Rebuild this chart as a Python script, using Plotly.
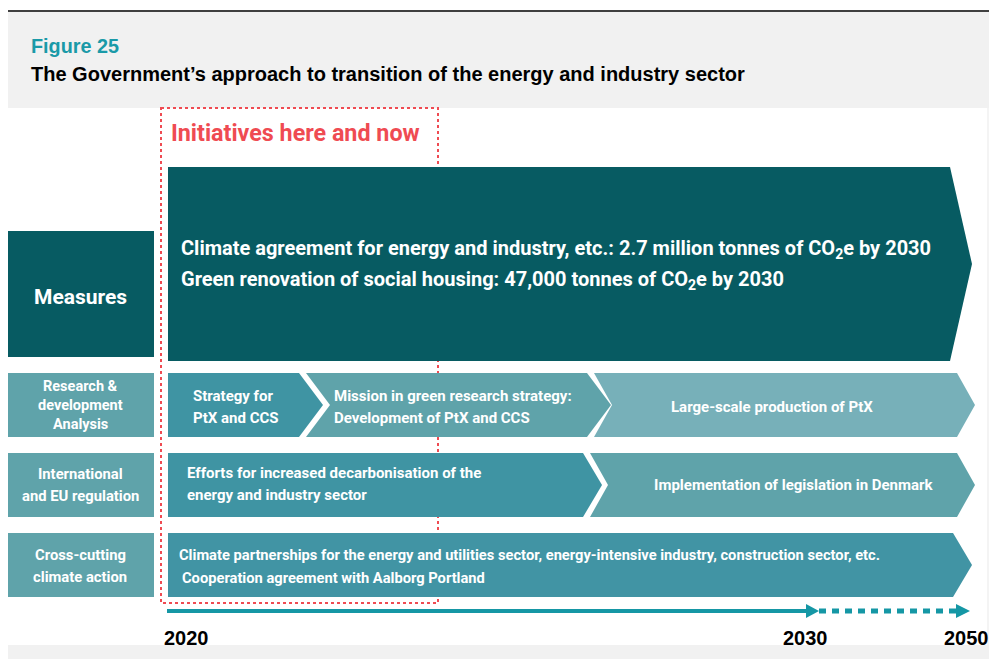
import plotly.graph_objects as go

# ---------------- data (text content) ----------------
fig_number = "Figure 25"
fig_title = "The Government’s approach to transition of the energy and industry sector"
focus_label = "Initiatives here and now"
row_labels = [["Measures"], ["Research &", "development", "Analysis"],
              ["International", "and EU regulation"], ["Cross-cutting", "climate action"]]
measures_lines = ["Climate agreement for energy and industry, etc.: 2.7 million tonnes of CO<sub>2</sub>e by 2030",
                  "Green renovation of social housing: 47,000 tonnes of CO<sub>2</sub>e by 2030"]
research_items = [["Strategy for", "PtX and CCS"],
                  ["Mission in green research strategy:", "Development of PtX and CCS"],
                  ["Large-scale production of PtX"]]
regulation_items = [["Efforts for increased decarbonisation of the", "energy and industry sector"],
                    ["Implementation of legislation in Denmark"]]
crosscut_lines = ["Climate partnerships for the energy and utilities sector, energy-intensive industry, construction sector, etc.",
                  "Cooperation agreement with Aalborg Portland"]
timeline_years = ["2020", "2030", "2050"]

# ---------------- styling / geometry ----------------
W, H = 989, 659
DARK = "#075b62"
MID = "#3f94a3"
LIGHT = "#5fa3aa"
LIGHTER = "#77b0b9"
TEAL = "#1597a5"
RED = "#ef4b52"
FONT = "Roboto"
PADX = 2  # annotation inner padding

fig = go.Figure()
shapes = []
ann = []


def rect(x0, y0, x1, y1, color):
    shapes.append(dict(type="rect", xref="x", yref="y", x0=x0, y0=y0, x1=x1, y1=y1,
                       fillcolor=color, line=dict(width=0), layer="below"))


def chevron(x0, x1, y0, y1, color, notch=True, d=20):
    ym = (y0 + y1) / 2
    pts = [(x0, y0), (x1, y0), (x1 + d, ym), (x1, y1), (x0, y1)]
    if notch:
        pts.append((x0 + d, ym))
    path = "M " + " L ".join(f"{a},{b}" for a, b in pts) + " Z"
    shapes.append(dict(type="path", xref="x", yref="y", path=path,
                       fillcolor=color, line=dict(width=0), layer="below"))


def text(x, y, s, size, color="white", xanchor="left", family=FONT, bold=True):
    if xanchor == "left":
        x -= PADX
    ann.append(dict(x=x, y=y, xref="x", yref="y", text=f"<b>{s}</b>" if bold else s,
                    showarrow=False, xanchor=xanchor, yanchor="middle", align="left",
                    font=dict(family=family, size=size, color=color)))


def lines(x, ys, items, size, xanchor="left"):
    for y, s in zip(ys, items):
        text(x, y, s, size, xanchor=xanchor)


# header
rect(8, 12, W, 108, "#f1f1f1")
shapes.append(dict(type="line", xref="x", yref="y", x0=8, x1=W, y0=11, y1=11,
                   line=dict(color="black", width=1.5)))
rect(8, 645, W, H, "#f1f1f1")
rect(987, 108, W, 645, "#f4f4f4")
text(31, 46, fig_number, 19.8, color="#1a9aa8", family="Arial, Liberation Sans")
text(31, 74, fig_title, 20, color="black", family="Arial, Liberation Sans")

# focus box (drawn behind the arrows)
shapes.append(dict(type="rect", xref="x", yref="y", x0=161, x1=438, y0=108, y1=603,
                   line=dict(color=RED, width=2, dash="dot"), fillcolor="rgba(0,0,0,0)", layer="below"))
text(171, 133, focus_label, 23.3, color=RED)

# rows: (y0, y1)
rows = [(231, 357), (373, 437), (453, 517), (533, 597)]
label_colors = [DARK, LIGHT, LIGHT, LIGHT]
label_ys = [[297], [386, 405, 424], [474, 496], [555, 577]]
for (y0, y1), c, lab, ys, sz in zip(rows, label_colors, row_labels, label_ys, [21, 14.5, 14.8, 14.8]):
    rect(8, y0, 154, y1, c)
    lines(80, ys, lab, sz, xanchor="center")

# measures big arrow
chevron(168, 950, 167, 361, DARK, notch=False, d=22)
text(181, 249, measures_lines[0], 20)
text(181, 280, measures_lines[1], 20)

# research row
y0, y1 = rows[1]
chevron(168, 299, y0, y1, MID, notch=False, d=24)
chevron(306, 587, y0, y1, LIGHT, notch=True, d=24)
chevron(594, 957, y0, y1, LIGHTER, notch=True, d=18)
lines(193, [396, 418], research_items[0], 15)
lines(334, [396, 418], research_items[1], 15)
lines(772, [407], research_items[2], 15, xanchor="center")

# regulation row
y0, y1 = rows[2]
chevron(168, 583, y0, y1, MID, notch=False, d=19)
chevron(590, 957, y0, y1, LIGHT, notch=True, d=18)
lines(187, [473, 495], regulation_items[0], 15)
lines(794, [485], regulation_items[1], 15, xanchor="center")

# cross-cutting row
y0, y1 = rows[3]
chevron(168, 953, y0, y1, "#4194a4", notch=False, d=19)
text(179, 555, crosscut_lines[0], 14.7)
text(182, 578, crosscut_lines[1], 14.7)

# timeline
shapes.append(dict(type="line", xref="x", yref="y", x0=167, x1=808, y0=611, y1=611,
                   line=dict(color=TEAL, width=4)))
shapes.append(dict(type="path", xref="x", yref="y", path="M 806,604 L 819,611 L 806,618 Z",
                   fillcolor=TEAL, line=dict(width=0)))
shapes.append(dict(type="line", xref="x", yref="y", x0=819, x1=956, y0=611, y1=611,
                   line=dict(color=TEAL, width=5, dash="7px,6px")))
shapes.append(dict(type="path", xref="x", yref="y", path="M 956,604 L 970,611 L 956,618 Z",
                   fillcolor=TEAL, line=dict(width=0)))
for x, yr in zip([186, 805, 966], timeline_years):
    text(x, 638, yr, 20, color="black", xanchor="center", family="Arial, Liberation Sans")

fig.update_layout(
    width=W, height=H, margin=dict(l=0, r=0, t=0, b=0, pad=0),
    paper_bgcolor="white", plot_bgcolor="white",
    xaxis=dict(range=[0, W], visible=False, fixedrange=True),
    yaxis=dict(range=[H, 0], visible=False, fixedrange=True),
    shapes=shapes, annotations=ann, showlegend=False,
)
fig.write_html("out.html", config={"displayModeBar": False},
               post_script="document.body.style.margin='0';document.documentElement.style.overflow='hidden';")
